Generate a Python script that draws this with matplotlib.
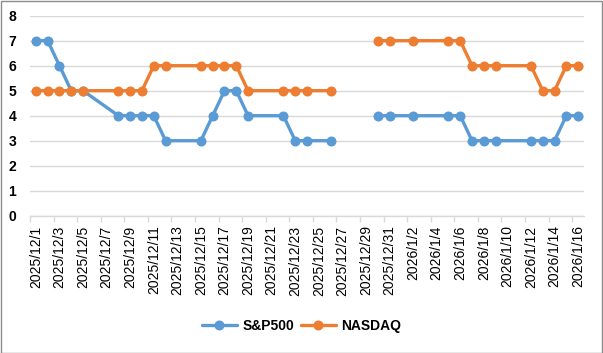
"""Daily rank of S&P500 vs NASDAQ, Dec 2025 - Jan 2026."""

import datetime as dt

import matplotlib

matplotlib.use("Agg")
import matplotlib.pyplot as plt
import numpy as np
from matplotlib.patches import Rectangle

dates = [
    "2025-12-01", "2025-12-02", "2025-12-03", "2025-12-04", "2025-12-05",
    "2025-12-08", "2025-12-09", "2025-12-10", "2025-12-11", "2025-12-12",
    "2025-12-15", "2025-12-16", "2025-12-17", "2025-12-18", "2025-12-19",
    "2025-12-22", "2025-12-23", "2025-12-24", "2025-12-26", "2025-12-29",
    "2025-12-30", "2025-12-31", "2026-01-02", "2026-01-05", "2026-01-06",
    "2026-01-07", "2026-01-08", "2026-01-09", "2026-01-12", "2026-01-13",
    "2026-01-14", "2026-01-15", "2026-01-16",
]
nan = np.nan
sp500 = [7, 7, 6, 5, 5, 4, 4, 4, 4, 3, 3, 4, 5, 5, 4, 4, 3, 3, 3, nan,
         4, 4, 4, 4, 4, 3, 3, 3, 3, 3, 3, 4, 4]
nasdaq = [5, 5, 5, 5, 5, 5, 5, 5, 6, 6, 6, 6, 6, 6, 5, 5, 5, 5, 5, nan,
          7, 7, 7, 7, 7, 6, 6, 6, 6, 5, 5, 6, 6]

start = dt.date(2025, 12, 1)
end = dt.date(2026, 1, 16)

BLUE = "#5B9BD5"
ORANGE = "#ED7D31"

plt.rcParams["font.family"] = ["Liberation Sans", "DejaVu Sans"]

# day offsets from the first date, so the axis is a plain day scale
day_x = [(dt.date.fromisoformat(d) - start).days for d in dates]
n_days = (end - start).days

fig = plt.figure(figsize=(6.03, 3.53), dpi=100)
ax = fig.add_axes([30 / 603, 1 - 215.7 / 353, 554 / 603, 200 / 353])

ax.plot(day_x, sp500, color=BLUE, linewidth=2.4, marker="o", markersize=6.2,
        label="S&P500", solid_capstyle="round")
ax.plot(day_x, nasdaq, color=ORANGE, linewidth=2.4, marker="o", markersize=6.2,
        label="NASDAQ", solid_capstyle="round")

ax.set_ylim(0, 8)
ax.set_yticks(range(0, 9))
ax.set_xlim(-0.5, n_days + 0.5)

label_days = list(range(0, n_days + 1, 2))
labels = []
for k in label_days:
    d = start + dt.timedelta(days=k)
    labels.append(f"{d.year}/{d.month}/{d.day}")
ax.set_xticks(label_days)
ax.set_xticklabels(labels, rotation=90, fontsize=10)
ax.tick_params(axis="x", which="major", length=0, pad=7)
ax.set_xticks([k - 0.5 for k in label_days], minor=True)
ax.tick_params(axis="x", which="minor", length=4, color="#D9D9D9", width=1)

ax.tick_params(axis="y", length=0, pad=10, labelsize=10)
for t in ax.get_yticklabels():
    t.set_fontweight("bold")

ax.grid(axis="y", color="#D9D9D9", linewidth=1)
ax.set_axisbelow(True)
for side in ["top", "right", "left"]:
    ax.spines[side].set_visible(False)
ax.spines["bottom"].set_color("#D9D9D9")
ax.spines["bottom"].set_linewidth(1)

fig.legend(loc="center", bbox_to_anchor=(0.5, 1 - 326 / 353), ncol=2,
           frameon=False, prop={"weight": "bold", "size": 10},
           handlelength=2.5, columnspacing=0.5, handletextpad=0.4)

fig.patches.append(Rectangle((0.5 / 603, 0.5 / 353), 601.5 / 603, 351.5 / 353,
                             transform=fig.transFigure, fill=False,
                             edgecolor="#8C8C8C", linewidth=1))

fig.savefig("out.png", dpi=100)
